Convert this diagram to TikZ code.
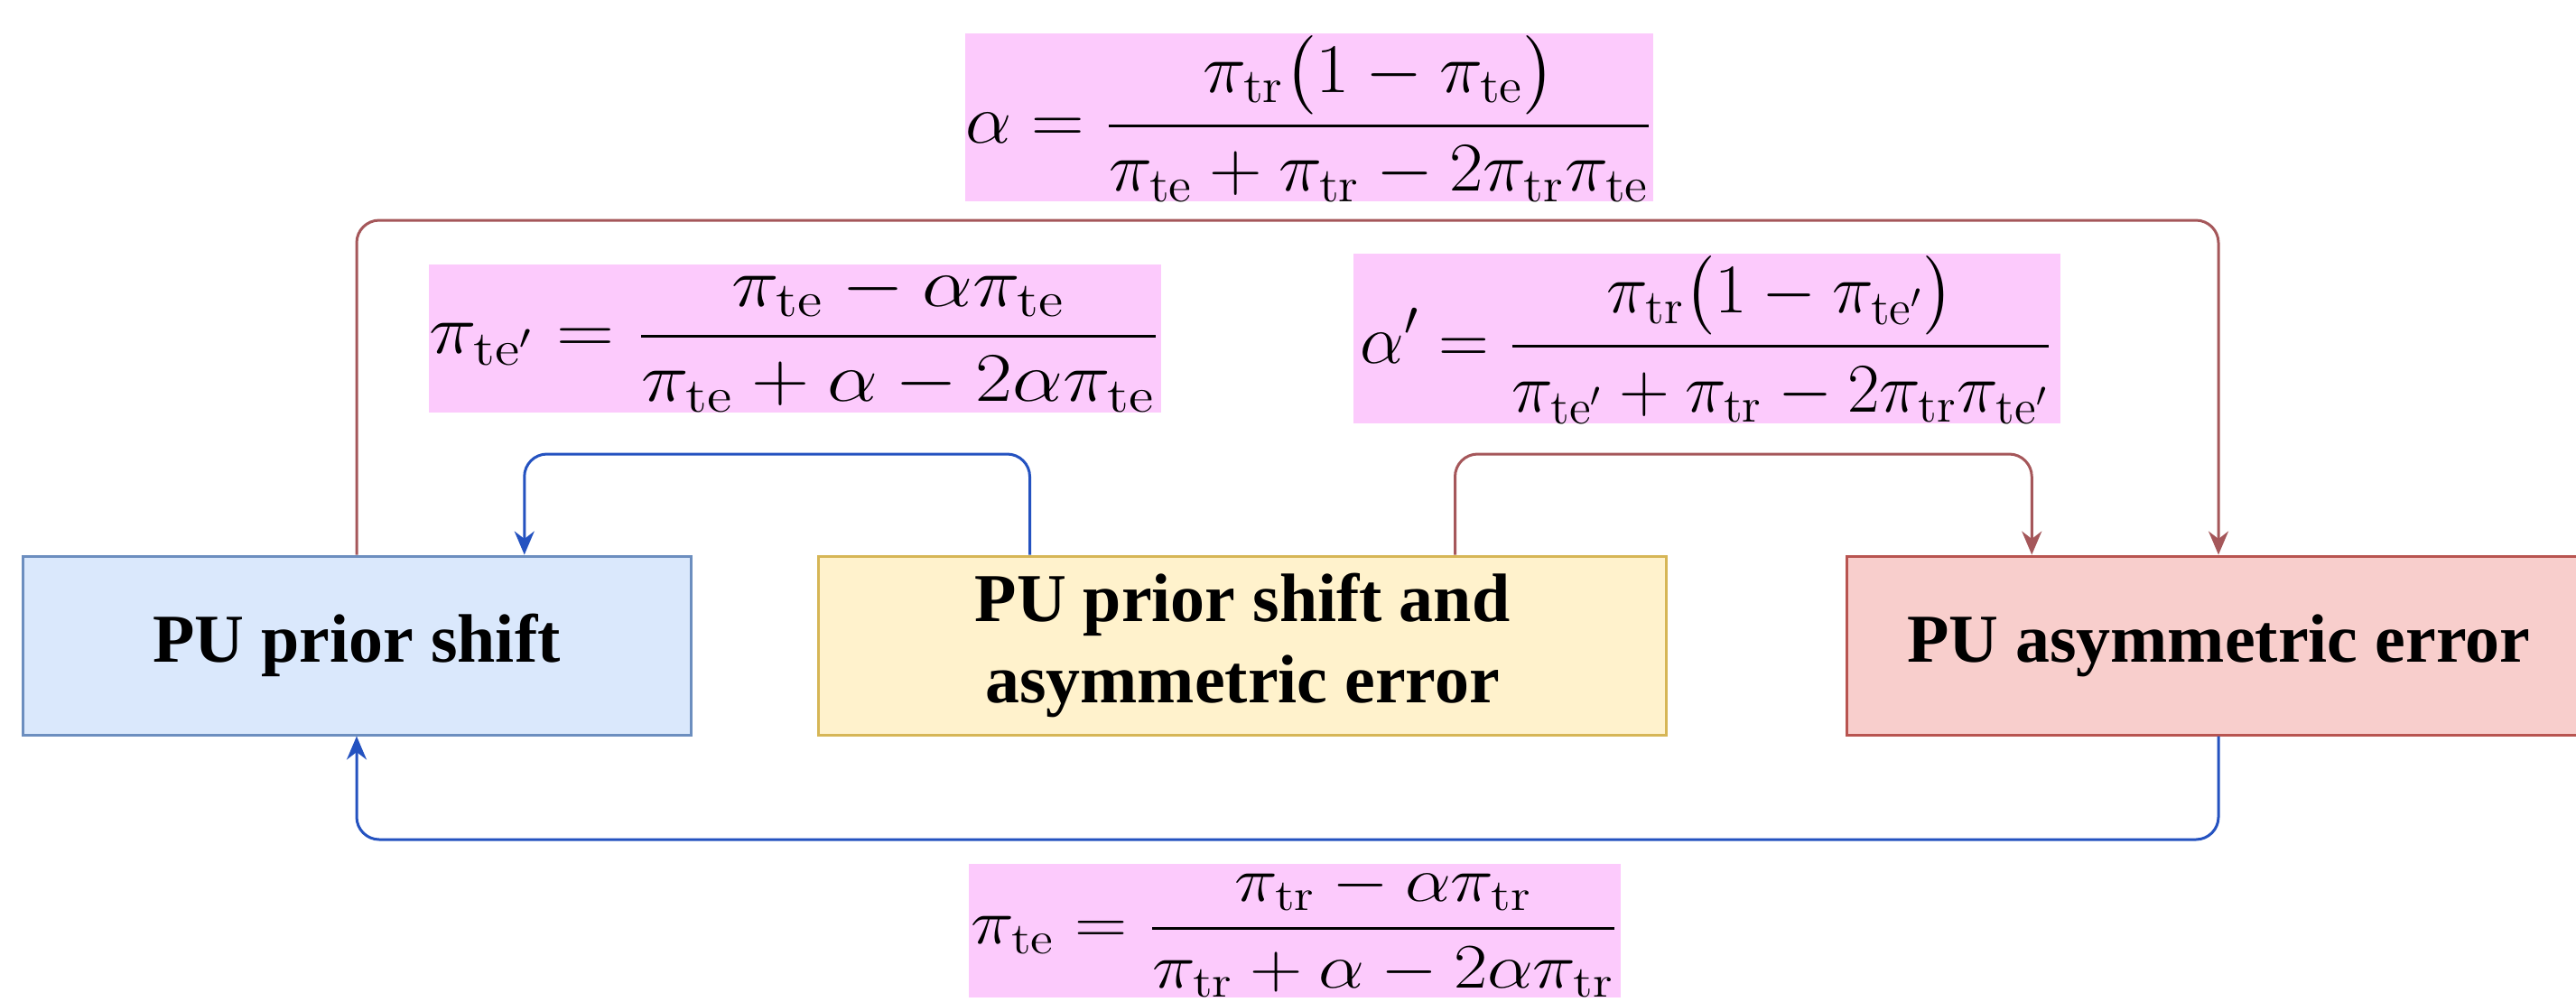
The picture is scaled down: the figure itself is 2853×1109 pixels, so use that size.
\documentclass[tikz,border=0pt]{standalone}
\usepackage{fix-cm}
\usepackage{amsmath}
\usepackage{graphicx}
\usepackage[no-math]{fontspec}
\newfontfamily\boxfont{Liberation Serif}
\usetikzlibrary{arrows.meta,calc}
\definecolor{priorfill}{HTML}{DAE8FC}
\definecolor{priorline}{HTML}{6C8EBF}
\definecolor{bothfill}{HTML}{FFF2CC}
\definecolor{bothline}{HTML}{D6B656}
\definecolor{asymfill}{HTML}{F8CECC}
\definecolor{asymline}{HTML}{B85450}
\definecolor{eqpink}{HTML}{FCCAFC}
\definecolor{brownline}{HTML}{A5575A}
\definecolor{blueline}{HTML}{2452C0}

\begin{document}
\begin{tikzpicture}[x=0.1mm,y=-0.1mm,>={Stealth[length=2.6mm,width=2.2mm]},
  box/.style={draw,line width=0.3mm,minimum height=19.8mm,inner sep=0pt,align=center,
    font=\boxfont\bfseries\fontsize{21.6}{25.5}\selectfont},
  eq/.style={fill=eqpink,inner sep=0pt,font=\fontsize{22}{26}\selectfont},
  link/.style={line width=0.3mm,rounded corners=2.5mm}]
  \useasboundingbox[fill=white] (0,0) rectangle (2853,1109);
  \node[box,fill=priorfill,draw=priorline,minimum width=74mm] (prior) at (395,715) {PU prior shift};
  \node[box,fill=bothfill,draw=bothline,minimum width=93.9mm] (both) at (1376,715) {PU prior shift and\\asymmetric error};
  \node[box,fill=asymfill,draw=asymline,minimum width=82.4mm] (asym) at (2457,715) {PU asymmetric error};
  \node[eq,minimum width=75.9mm,minimum height=17mm] (alphaEq) at (1450,130)
    {\scalebox{1.05}[1]{$\displaystyle\alpha=\frac{\pi_{\mathrm{tr}}\bigl(1-\pi_{\mathrm{te}}\bigr)}{\pi_{\mathrm{te}}+\pi_{\mathrm{tr}}-2\pi_{\mathrm{tr}}\pi_{\mathrm{te}}}$}};
  \node[eq,minimum width=81.1mm,minimum height=16.4mm] (teprimeEq) at (880,375)
    {\scalebox{1.15}[1]{$\displaystyle\pi_{\mathrm{te}'}=\frac{\pi_{\mathrm{te}}-\alpha\pi_{\mathrm{te}}}{\pi_{\mathrm{te}}+\alpha-2\alpha\pi_{\mathrm{te}}}$}};
  \node[eq,minimum width=78.3mm,minimum height=16.4mm] (alphaprimeEq) at (1890,375)
    {$\displaystyle\alpha'=\frac{\pi_{\mathrm{tr}}\bigl(1-\pi_{\mathrm{te}'}\bigr)}{\pi_{\mathrm{te}'}+\pi_{\mathrm{tr}}-2\pi_{\mathrm{tr}}\pi_{\mathrm{te}'}}$};
  \node[eq,font=\fontsize{20}{24}\selectfont,minimum width=72.2mm,minimum height=14.5mm] (teEq) at (1434,1031)
    {\scalebox{1.15}[1]{$\displaystyle\pi_{\mathrm{te}}=\frac{\pi_{\mathrm{tr}}-\alpha\pi_{\mathrm{tr}}}{\pi_{\mathrm{tr}}+\alpha-2\alpha\pi_{\mathrm{tr}}}$}};
  \coordinate (topY) at (0,244);
  \coordinate (midY) at (0,503);
  \coordinate (botY) at (0,930);
  \coordinate (bothL) at ($(both.north west)!0.25!(both.north east)$);
  \coordinate (bothR) at ($(both.north west)!0.75!(both.north east)$);
  \coordinate (priorR) at ($(prior.north west)!0.75!(prior.north east)$);
  \coordinate (asymL) at ($(asym.north west)!0.25!(asym.north east)$);
  \draw[link,brownline,->] (prior.north) -- (prior.north |- topY) -| (asym.north);
  \draw[link,blueline,->] (bothL) -- (bothL |- midY) -| (priorR);
  \draw[link,brownline,->] (bothR) -- (bothR |- midY) -| (asymL);
  \draw[link,blueline,->] (asym.south) -- (asym.south |- botY) -| (prior.south);
\end{tikzpicture}
\end{document}
